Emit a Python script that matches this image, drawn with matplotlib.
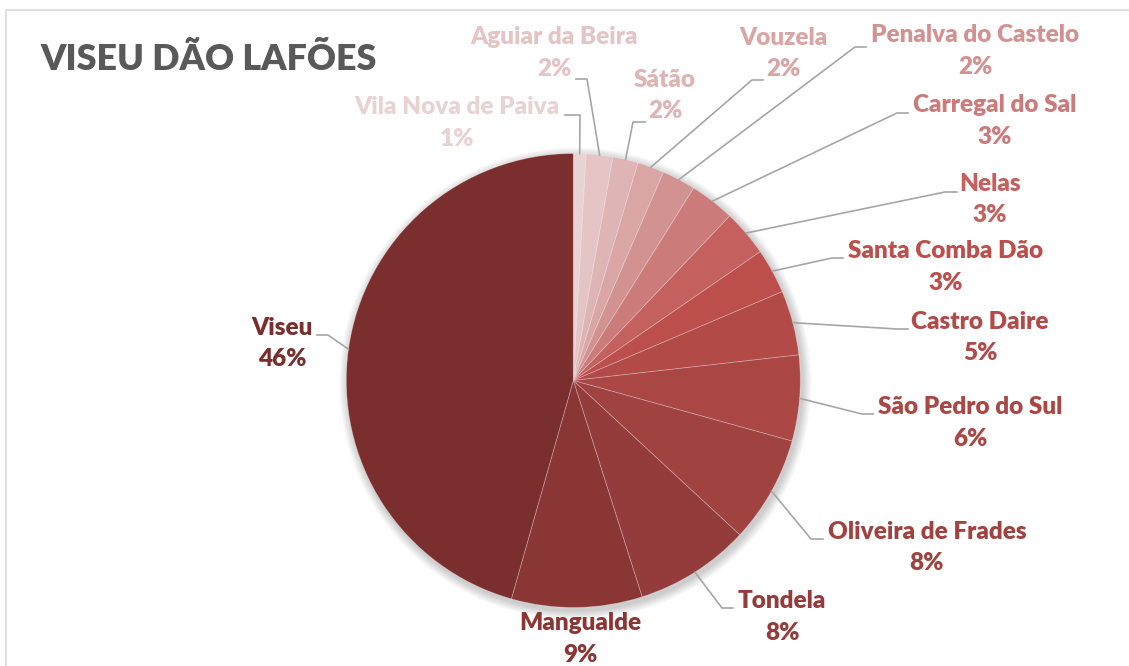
import numpy as np
import matplotlib
matplotlib.use("Agg")
import matplotlib.pyplot as plt
from matplotlib.patches import Circle, Rectangle

# --- data ---
names = ["Vila Nova de Paiva", "Aguiar da Beira", "Sátão", "Vouzela",
         "Penalva do Castelo", "Carregal do Sal", "Nelas", "Santa Comba Dão",
         "Castro Daire", "São Pedro do Sul", "Oliveira de Frades", "Tondela",
         "Mangualde", "Viseu"]
shares = [0.9, 1.9, 1.8, 1.9, 2.4, 3.2, 3.3, 3.2, 4.6, 6.1, 7.6, 8.2, 9.3, 45.6]

colors = ["#E8D2D2", "#E4C4C4", "#DFB4B4", "#DAA5A5", "#D39292", "#CB7C7A",
          "#C4605E", "#BC4E4B", "#B24A48", "#AA4644", "#A04240", "#943C3B",
          "#8A3635", "#7B2E2E"]

# label layout (pixel coords of name line centre) and leader elbows
label_pos = [(457, 107), (554, 37), (665, 80), (783, 38), (975, 35), (995, 105),
             (990, 184), (946, 251), (980, 322), (970, 407), (927, 532),
             (782, 601), (580, 623), (282, 328)]
elbows = [[(580, 115), (565, 115)], [(587, 79), (576, 79)], [(633, 122), (645, 122)],
          [(752, 80), (763, 80)], [(855, 47), (866, 47)], [(897, 113), (908, 113)],
          [(945, 192), (957, 192)], [(832, 258), (843, 258)], [(897, 329), (908, 329)],
          [(862, 414), (873, 414)], [(811, 539), (823, 539)], [(722, 608), (733, 608)],
          None, [(328, 335), (317, 335)]]

W, H = 1129, 666
cx, cy, R = 573.3, 380.5, 227

plt.rcParams['font.family'] = ['Lato', 'DejaVu Sans']

fig = plt.figure(figsize=(W / 100, H / 100), dpi=100)
ax = fig.add_axes([0, 0, 1, 1])

# chart border
ax.add_patch(Rectangle((6, 10), 1200, 700, fill=False, edgecolor="#D9D9D9", lw=1.2, zorder=0))

# soft shadow under the pie
for i in range(10):
    ax.add_patch(Circle((cx + 2, cy + 3), R + 1 + i * 0.9, color="black",
                        alpha=0.018, lw=0, zorder=1))

# y axis is inverted, so counterclock in data = clockwise on screen
wedges, _ = ax.pie(shares, colors=colors, startangle=-90, counterclock=True,
                   center=(cx, cy), radius=R,
                   wedgeprops=dict(edgecolor=(1, 1, 1, 0.3), linewidth=0.6))
for w in wedges:
    w.set_zorder(2)

ax.set_xlim(0, W)
ax.set_ylim(H, 0)
ax.set_aspect("equal")
ax.axis("off")

total = sum(shares)
start = 0.0
for i, (name, v) in enumerate(zip(names, shares)):
    mid = np.radians((start + v / 2) / total * 360)
    start += v
    px = cx + R * np.sin(mid)
    py = cy - R * np.cos(mid)
    lx, ly = label_pos[i]
    ax.text(lx, ly, name, ha="center", va="center", fontsize=17.5,
            fontweight="heavy", color=colors[i], zorder=4)
    ax.text(lx, ly + 31.5, f"{v / total * 100:.0f}%", ha="center", va="center",
            fontsize=17.5, fontweight="heavy", color=colors[i], zorder=4)
    if elbows[i] is not None:
        xs = [px] + [p[0] for p in elbows[i]]
        ys = [py] + [p[1] for p in elbows[i]]
        ax.plot(xs, ys, color="#A6A6A6", lw=1.2, zorder=3)

ax.text(40, 60, "VISEU DÃO LAFÕES", ha="left", va="center", fontsize=25.8,
        fontweight="heavy", color="#595959")

fig.savefig("out.png", dpi=100)
